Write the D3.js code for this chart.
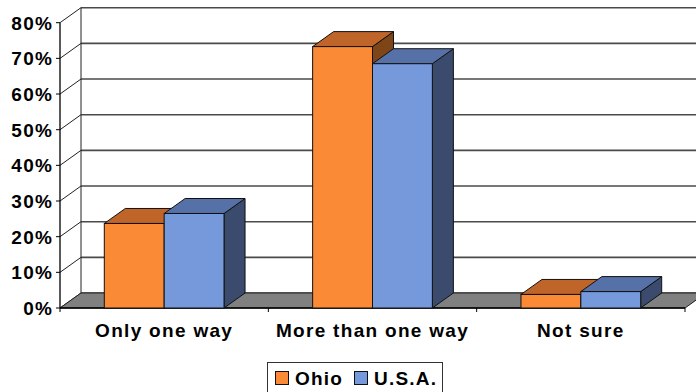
<!DOCTYPE html>
<html><head><meta charset="utf-8">
<script src="https://cdn.jsdelivr.net/npm/d3@7"></script>
<style>
html,body{margin:0;padding:0;background:#fff;}
svg{display:block;}
text{font-family:"Liberation Sans",Arial,sans-serif;font-weight:bold;fill:#000;}
</style></head>
<body>
<svg id="chart" width="696" height="392"></svg>
<script>
const categories = ["Only one way", "More than one way", "Not sure"];
const seriesNames = ["Ohio", "U.S.A."];
const ohioValues = [23.7, 73.3, 3.8];
const usaValues = [26.5, 68.5, 4.6];
const yTicks = [0, 10, 20, 30, 40, 50, 60, 70, 80];
const yTickLabels = ["0%", "10%", "20%", "30%", "40%", "50%", "60%", "70%", "80%"];

const colors = {
  "Ohio": {front: "#FB8A36", top: "#C0652A", side: "#7E4519"},
  "U.S.A.": {front: "#7599DA", top: "#5671A8", side: "#3B4B6D"}
};

const svg = d3.select("#chart");
const DX = 21, DY = -15;
const x0 = d3.scaleBand().domain(categories).range([60, 685]).padding(0);
const x1 = d3.scaleBand().domain(seriesNames).range([0, x0.bandwidth()]).paddingInner(0).paddingOuter(0.74);
const y = d3.scaleLinear().domain([0, 80]).range([308, 22.7]);

// back wall gridlines
svg.append("g").selectAll("line").data(yTicks).join("line")
  .attr("x1", 60 + DX).attr("x2", 700)
  .attr("y1", d => y(d) + DY).attr("y2", d => y(d) + DY)
  .attr("stroke", "#4a4a4a").attr("stroke-width", 1.6);
// left wall diagonals
svg.append("g").selectAll("line").data(yTicks).join("line")
  .attr("x1", 60).attr("x2", 60 + DX)
  .attr("y1", d => y(d)).attr("y2", d => y(d) + DY)
  .attr("stroke", "#222").attr("stroke-width", 1);
// back wall left edge
svg.append("line").attr("x1", 60 + DX).attr("x2", 60 + DX)
  .attr("y1", y(80) + DY).attr("y2", y(0) + DY).attr("stroke", "#222").attr("stroke-width", 1);

// floor
const fl = [[60, y(0)], [685, y(0)], [685 + DX, y(0) + DY], [60 + DX, y(0) + DY]];
svg.append("path").attr("d", "M" + fl.map(p => p.join(",")).join("L") + "Z")
  .attr("fill", "#808080").attr("stroke", "#222").attr("stroke-width", 1);

// front axis
svg.append("line").attr("x1", 60).attr("x2", 60).attr("y1", y(80)).attr("y2", y(0))
  .attr("stroke", "#000").attr("stroke-width", 1.3);
svg.append("g").selectAll("line").data(yTicks).join("line")
  .attr("x1", 56).attr("x2", 60).attr("y1", d => y(d)).attr("y2", d => y(d))
  .attr("stroke", "#000");
svg.append("line").attr("x1", 60).attr("x2", 685).attr("y1", y(0)).attr("y2", y(0))
  .attr("stroke", "#000").attr("stroke-width", 1.3);
const bounds = [60].concat(categories.map(c => x0(c) + x0.bandwidth()));
svg.append("g").selectAll("line").data(bounds).join("line")
  .attr("x1", d => d).attr("x2", d => d).attr("y1", y(0)).attr("y2", y(0) + 4)
  .attr("stroke", "#000");

// y labels
svg.append("g").selectAll("text").data(yTicks).join("text")
  .attr("x", 53).attr("y", d => y(d)).attr("dy", "0.36em")
  .attr("text-anchor", "end").attr("font-size", 19).attr("letter-spacing", 1.2)
  .text((d, i) => yTickLabels[i]);

// category labels
svg.append("g").selectAll("text").data(categories).join("text")
  .attr("x", d => x0(d) + x0.bandwidth() / 2).attr("y", 337)
  .attr("text-anchor", "middle").attr("font-size", 19).attr("letter-spacing", 1.3)
  .text(d => d);

// bars
const barData = [];
categories.forEach((c, i) => {
  barData.push({cat: c, s: "Ohio", v: ohioValues[i]});
  barData.push({cat: c, s: "U.S.A.", v: usaValues[i]});
});
const poly = pts => "M" + pts.map(p => p.join(",")).join("L") + "Z";
const bars = svg.append("g").selectAll("g").data(barData).join("g");
bars.each(function(d) {
  const g = d3.select(this);
  const xl = x0(d.cat) + x1(d.s), xr = xl + x1.bandwidth();
  const yt = y(d.v), yb = y(0);
  g.append("path").attr("d", poly([[xr, yt], [xr + DX, yt + DY], [xr + DX, yb + DY], [xr, yb]]))
    .attr("fill", colors[d.s].side).attr("stroke", "#111").attr("stroke-width", 1).attr("stroke-linejoin", "round");
  g.append("path").attr("d", poly([[xl, yt], [xl + DX, yt + DY], [xr + DX, yt + DY], [xr, yt]]))
    .attr("fill", colors[d.s].top).attr("stroke", "#111").attr("stroke-width", 1).attr("stroke-linejoin", "round");
  g.append("rect").attr("x", xl).attr("y", yt).attr("width", xr - xl).attr("height", yb - yt)
    .attr("fill", colors[d.s].front).attr("stroke", "#111").attr("stroke-width", 1);
});

// legend
const lg = svg.append("g");
lg.append("rect").attr("x", 267.5).attr("y", 362.5).attr("width", 175).attr("height", 40)
  .attr("fill", "#fff").attr("stroke", "#333").attr("stroke-width", 1);
const legX = [275, 354];
seriesNames.forEach((s, i) => {
  lg.append("rect").attr("x", legX[i] + 0.5).attr("y", 371.5).attr("width", 13).attr("height", 13)
    .attr("fill", colors[s].front).attr("stroke", "#111");
  lg.append("text").attr("x", legX[i] + 20).attr("y", 384.5).attr("font-size", 19)
    .attr("letter-spacing", 1.2).text(s);
});
</script>
</body></html>
